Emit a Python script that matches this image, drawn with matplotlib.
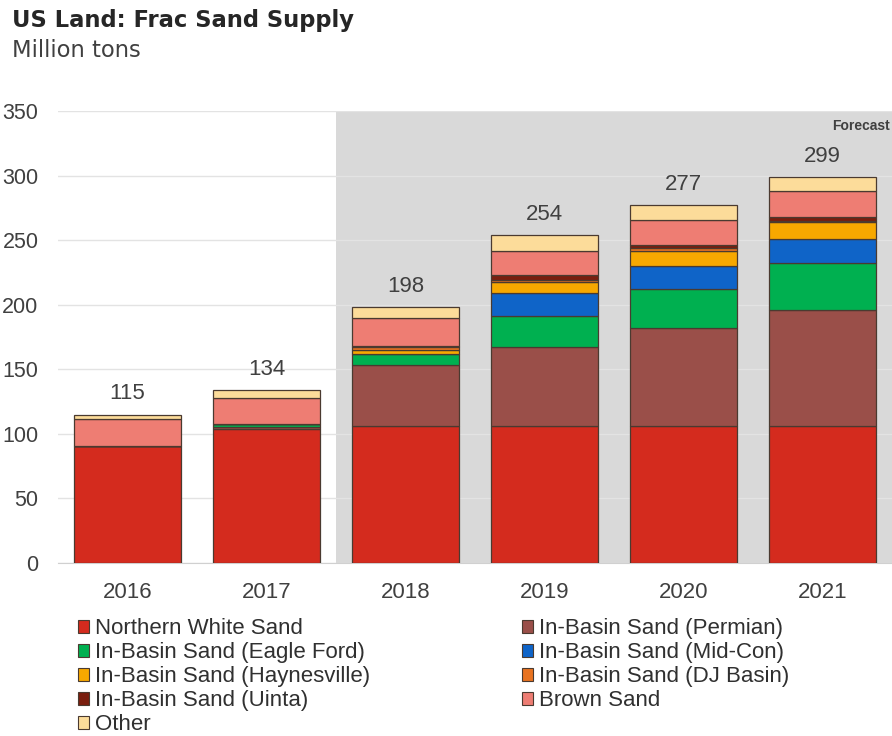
import matplotlib
matplotlib.use("Agg")
import matplotlib.pyplot as plt
from matplotlib.patches import Patch
import numpy as np

years = ["2016", "2017", "2018", "2019", "2020", "2021"]
series_names = ["Northern White Sand", "In-Basin Sand (Permian)", "In-Basin Sand (Eagle Ford)",
                "In-Basin Sand (Mid-Con)", "In-Basin Sand (Haynesville)", "In-Basin Sand (DJ Basin)",
                "In-Basin Sand (Uinta)", "Brown Sand", "Other"]
northern_white = [91, 104, 106, 106, 106, 106]
permian = [0, 1, 47, 61, 76, 90]
eagle_ford = [0, 3, 9, 24, 30, 36]
mid_con = [0, 0, 0, 18, 18, 19]
haynesville = [0, 0, 3, 9, 12, 13]
dj_basin = [0, 0, 2, 1, 2, 1]
uinta = [0, 0, 1, 4, 2, 3]
brown = [20.5, 20, 22, 19, 20, 20]
other = [3.5, 6, 8, 12, 11, 11]
totals = [115, 134, 198, 254, 277, 299]

colors = ["#D42B1E", "#9A4F49", "#00B050", "#0F64C8", "#F7A800", "#E97320",
          "#7A1E0E", "#EE7D73", "#FCDC9A"]
data = [northern_white, permian, eagle_ford, mid_con, haynesville, dj_basin, uinta, brown, other]

plt.rcParams['font.family'] = ['Liberation Sans', 'DejaVu Sans']

fig = plt.figure(figsize=(8.92, 7.36), dpi=100)
ax = fig.add_axes([0.065, 0.235, 0.935, 0.614])

x = np.arange(len(years))
ax.axvspan(1.5, 5.5, color="#D9D9D9", zorder=0, lw=0)
bottom = np.zeros(len(years))
for vals, col in zip(data, colors):
    vals = np.array(vals, dtype=float)
    ax.bar(x, vals, bottom=bottom, width=0.77, color=col, edgecolor="#4a3a30",
           linewidth=0.9, zorder=3)
    bottom += vals

for xi, t in zip(x, totals):
    ax.text(xi, t + 8, str(t), ha="center", va="bottom", fontsize=16, color="#404040", zorder=4)

ax.text(5.485, 344, "Forecast", ha="right", va="top", fontsize=10, fontweight="bold", color="#404040")

ax.set_xlim(-0.5, 5.5)
ax.set_ylim(0, 350)
ax.set_yticks(range(0, 351, 50))
ax.yaxis.grid(True, color="#E3E3E3", linewidth=1, zorder=1)
ax.set_axisbelow(True)
ax.set_xticks(x)
ax.set_xticklabels(years)
ax.tick_params(axis="both", length=0, labelcolor="#404040")
ax.tick_params(axis="y", pad=14, labelsize=15.5)
ax.tick_params(axis="x", pad=13.5, labelsize=16)
for s in ["top", "right", "left"]:
    ax.spines[s].set_visible(False)
ax.spines["bottom"].set_color("#D0D0D0")

fig.text(0.013, 0.972, "US Land: Frac Sand Supply", fontsize=16.3, fontweight="bold",
         color="#262626", va="center", ha="left", family="DejaVu Sans")
fig.text(0.013, 0.932, "Million tons", fontsize=16.3, color="#404040", va="center", ha="left",
         family="DejaVu Sans")

order = [0, 2, 4, 6, 8, 1, 3, 5, 7]
handles = [Patch(facecolor=colors[i], edgecolor="#4a3a30", linewidth=0.8) for i in order]
labels = [series_names[i] for i in order]
leg = fig.legend(handles, labels, loc="upper left", bbox_to_anchor=(0.087, 0.16),
                 ncol=2, frameon=False, handlelength=0.5, handleheight=0.5,
                 handletextpad=0.3, columnspacing=6.8, labelspacing=0.135, borderaxespad=0,
                 borderpad=0, prop={'family': 'Liberation Sans', 'size': 16})
for t in leg.get_texts():
    t.set_color("#303030")

fig.savefig("out.png", dpi=100)
